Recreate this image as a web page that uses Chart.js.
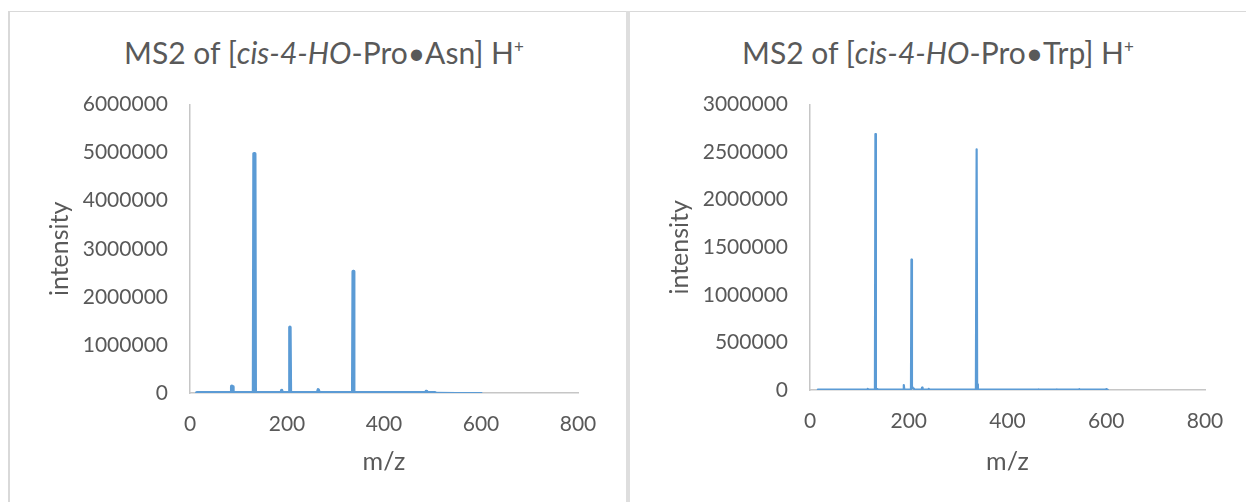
<!DOCTYPE html>
<html>
<head>
<meta charset="utf-8">
<script src="https://cdn.jsdelivr.net/npm/chart.js@4/dist/chart.umd.min.js"></script>
<style>
  html, body { margin: 0; padding: 0; background: #fff; }
  body { width: 1246px; height: 502px; position: relative; overflow: hidden; font-family: Lato, "Open Sans", sans-serif; color: #595959; }
  .frame { position: absolute; left: 8px; top: 11px; width: 1238px; height: 491px;
           border-top: 1px solid #d9d9d9; border-left: 2px solid #d9d9d9; box-sizing: border-box; }
  .divider { position: absolute; left: 626px; top: 11px; width: 4px; height: 491px; background: #dedede; }
  .title { position: absolute; top: 34px; height: 36px; line-height: 36px; font-size: 30px;
           text-align: center; white-space: nowrap; color: #595959; }
  .title sup { font-size: 17px; vertical-align: 11px; line-height: 0; }
  canvas { position: absolute; }
</style>
</head>
<body>
<div class="frame"></div>
<div class="divider"></div>

<div class="title" style="left:16px; width:616px;">MS2 of [<i>cis-4-HO</i>-Pro•Asn] H<sup>+</sup></div>
<div class="title" style="left:630px; width:616px;">MS2 of [<i>cis-4-HO</i>-Pro•Trp] H<sup>+</sup></div>

<canvas id="asn" width="616" height="432" style="left:10px; top:70px;"></canvas>
<canvas id="trp" width="614" height="432" style="left:632px; top:70px;"></canvas>

<script>
// [cis-4-HO-Pro•Asn]H+ fragment spectrum
const mzAsn = [14, 60, 85, 86, 87.5, 88.5, 110, 131, 132, 133.5, 134.5, 160, 188, 189, 190,
               205, 206, 207, 240, 263, 264.5, 266, 300, 335.5, 336.5, 337.5, 400, 486, 487, 488,
               505, 550, 601];
const intAsn = [4000, 6000, 5000, 140000, 130000, 5000, 6000, 5000, 4980000, 4960000, 5000, 6000, 5000, 50000, 5000,
                5000, 1370000, 5000, 6000, 5000, 65000, 5000, 6000, 5000, 2530000, 5000, 6000, 5000, 30000, 5000,
                4000, 2000, 2000];

// [cis-4-HO-Pro•Trp]H+ fragment spectrum
const mzTrp = [16, 116, 117, 118, 131.5, 132.5, 133.5, 137, 138, 189, 190, 191,
               204.5, 205.5, 206.5, 208, 210, 212, 226, 227, 228, 239, 240, 241,
               336, 337.5, 338.5, 340, 462, 463, 464, 499, 500, 501, 544, 545, 546, 598, 600, 603];
const intTrp = [3000, 3000, 12000, 3000, 3000, 2690000, 3000, 10000, 3000, 3000, 52000, 3000,
                3000, 1370000, 40000, 20000, 15000, 3000, 3000, 25000, 3000, 3000, 12000, 3000,
                3000, 2530000, 60000, 3000, 3000, 8000, 3000, 3000, 8000, 3000, 3000, 8000, 3000, 3000, 10000, 3000];

// axis ticks
const mzTicks = [0, 200, 400, 600, 800];
const intTicksAsn = [0, 1000000, 2000000, 3000000, 4000000, 5000000, 6000000];
const intTicksTrp = [0, 500000, 1000000, 1500000, 2000000, 2500000, 3000000];

const TEXT = '#595959';
const AXIS = '#c6c6c6';
const LINE = '#5b9bd5';
const FONT = 'Lato, "Open Sans", sans-serif';

function points(xs, ys) { return xs.map((x, i) => ({ x: x, y: ys[i] })); }

function spectrum(id, xs, ys, yTicks, geo) {
  const yMax = yTicks[yTicks.length - 1];
  new Chart(document.getElementById(id), {
    type: 'scatter',
    data: {
      datasets: [{
        data: points(xs, ys),
        showLine: true,
        borderColor: LINE,
        backgroundColor: LINE,
        borderWidth: geo.lineWidth,
        borderJoinStyle: 'round',
        borderCapStyle: 'round',
        pointRadius: 0,
        pointHoverRadius: 0,
        segment: geo.segment
      }]
    },
    options: {
      responsive: false,
      devicePixelRatio: 1,
      animation: false,
      events: [],
      layout: { padding: { top: 0, right: geo.right, left: 0, bottom: 0 } },
      plugins: { legend: { display: false }, tooltip: { enabled: false }, title: { display: false } },
      scales: {
        x: {
          type: 'linear',
          min: 0, max: 800,
          afterBuildTicks: s => { s.ticks = mzTicks.map(v => ({ value: v })); },
          afterFit: s => { s.height = geo.xAxisH; },
          grid: { display: false, drawTicks: false },
          border: { display: true, color: AXIS, width: 1.5 },
          ticks: { color: TEXT, font: { family: FONT, size: 21 }, padding: 19, maxRotation: 0,
                   callback: v => String(v) },
          title: { display: true, text: 'm/z', color: TEXT, font: { family: FONT, size: 25 },
                   padding: { top: 0, bottom: 25 } }
        },
        y: {
          type: 'linear',
          min: 0, max: yMax,
          afterBuildTicks: s => { s.ticks = yTicks.map(v => ({ value: v })); },
          afterFit: s => { s.width = geo.yAxisW; },
          grid: { display: false, drawTicks: false },
          border: { display: true, color: AXIS, width: 1.5 },
          ticks: { color: TEXT, font: { family: FONT, size: 21 }, padding: geo.tickPad,
                   callback: v => String(v) },
          title: { display: true, text: 'intensity', color: TEXT, font: { family: FONT, size: 25 },
                   padding: { top: geo.yTitlePad, bottom: 0 } }
        }
      }
    }
  });
}

spectrum('asn', mzAsn, intAsn, intTicksAsn, {
  right: 48, xAxisH: 109, yAxisW: 180, tickPad: 22, yTitlePad: 35, lineWidth: 3.5,
  segment: { borderWidth: c => (c.p0.parsed.x >= 505 ? 2 : 3.5) }
});

spectrum('trp', mzTrp, intTrp, intTicksTrp, {
  right: 41, xAxisH: 112, yAxisW: 178, tickPad: 22, yTitlePad: 33, lineWidth: 2.2,
  segment: {}
});
</script>
</body>
</html>
